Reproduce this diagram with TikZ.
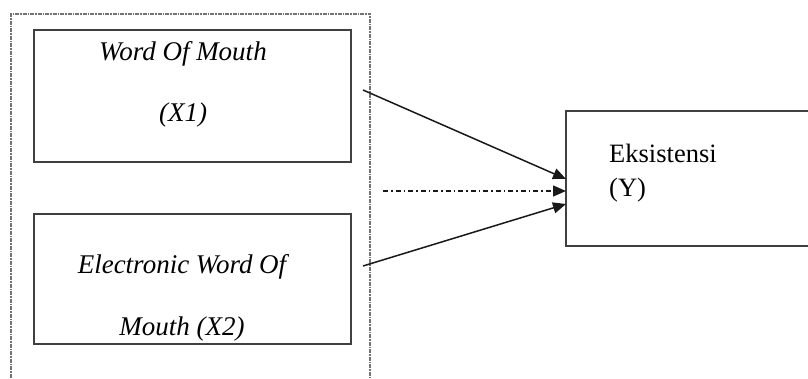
\documentclass[tikz,border=0pt]{standalone}
\usepackage{fontspec}
\setmainfont{Liberation Serif}
\usetikzlibrary{arrows.meta}
\begin{document}
\begin{tikzpicture}[x=1pt,y=-1pt,
  varbox/.style={draw=black!75,line width=1.3pt},
  grouping/.style={draw=black!55,line width=1.1pt,dash pattern=on 4pt off 1pt on 1.5pt off 1pt},
  link/.style={draw=black!90,line width=1.5pt,-{Triangle[length=13pt,width=11pt]}},
  label/.style={inner sep=0pt,anchor=base,font=\fontsize{27}{30}\selectfont\itshape},
  ylabel/.style={inner sep=0pt,anchor=base west,font=\fontsize{26.5}{30}\selectfont}]
\useasboundingbox (0,0) rectangle (808,379);
% grouping frame around the independent variables
\draw[grouping] (11,400) -- (11,14) -- (370,14) -- (370,400);
% independent variables
\draw[varbox] (34,30) rectangle (351,162);
\node[label] (x1a) at (183,61) {Word Of Mouth};
\node[label] (x1b) at (183,122) {(X1)};
\draw[varbox] (34,214) rectangle (351,344);
\node[label] (x2a) at (182,273) {Electronic Word Of};
\node[label] (x2b) at (182,335) {Mouth (X2)};
% dependent variable
\draw[varbox] (566,111) rectangle (812,246);
\node[ylabel] (ya) at (609,163) {Eksistensi};
\node[ylabel] (yb) at (609,197) {(Y)};
% connectors
\coordinate (s1) at (363,90);
\coordinate (s2) at (363,266);
\coordinate (s3) at (383,191);
\coordinate (t1) at (566,179);
\coordinate (t2) at (566,204);
\coordinate (t3) at (566,191);
\draw[link] (s1) -- (t1);
\draw[link] (s2) -- (t2);
\draw[link,dash pattern=on 5pt off 3pt on 1.5pt off 3pt] (s3) -- (t3);
\end{tikzpicture}
\end{document}
